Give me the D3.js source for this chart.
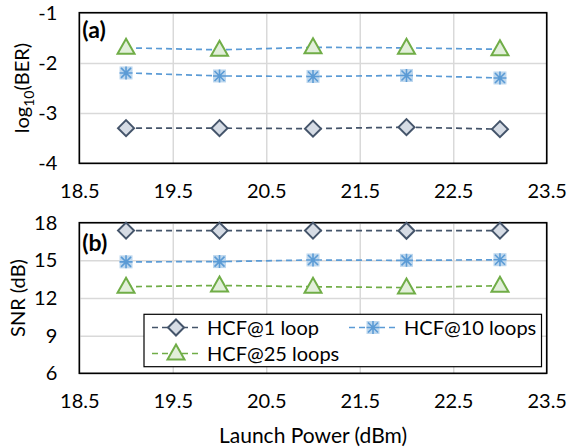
<!DOCTYPE html>
<html>
<head>
<meta charset="utf-8">
<script src="https://cdn.jsdelivr.net/npm/d3@7"></script>
<style>
  body { margin: 0; background: #fff; }
  svg text { font-family: Lato, "Open Sans", sans-serif; fill: #000; }
</style>
</head>
<body>
<div id="chart"></div>
<script>
// launch power (dBm)
var power = [19, 20, 21, 22, 23];
var xTicks = [18.5, 19.5, 20.5, 21.5, 22.5, 23.5];

// (a) log10(BER)
var ber1 = [-3.30, -3.30, -3.31, -3.28, -3.32];
var ber10 = [-2.20, -2.26, -2.27, -2.25, -2.30];
var ber25 = [-1.70, -1.74, -1.69, -1.70, -1.73];
var berTicks = [-4, -3, -2, -1];

// (b) SNR (dB)
var snr1 = [17.37, 17.37, 17.37, 17.36, 17.37];
var snr10 = [14.88, 14.90, 15.03, 15.00, 15.05];
var snr25 = [12.90, 13.00, 12.90, 12.83, 12.98];
var snrTicks = [6, 9, 12, 15, 18];

var seriesNames = ["HCF@1 loop", "HCF@10 loops", "HCF@25 loops"];

var W = 567, H = 448;
var left = 79.3, right = 546.7;

var svg = d3.select("#chart").append("svg")
    .attr("width", W)
    .attr("height", H);

var x = d3.scaleLinear().domain([18.5, 23.5]).range([left, right]);

// plain hyphen for negatives, like the original
function intFmt(d) { return String(d); }

var styles = {
    diamond: { stroke: "#44546a", fill: "#d6dce5" },
    star: { stroke: "#5b9bd5", fill: "#bdd7ee" },
    triangle: { stroke: "#70ad47", fill: "#e2efda" }
};

function drawMarker(g, kind, cx, cy) {
    var s = styles[kind];
    if (kind === "diamond") {
        g.append("path")
            .attr("d", "M0,-8L8,0L0,8L-8,0Z")
            .attr("transform", "translate(" + cx + "," + cy + ")")
            .attr("fill", s.fill).attr("stroke", s.stroke).attr("stroke-width", 2);
    } else if (kind === "triangle") {
        g.append("path")
            .attr("d", "M0,-9L8.5,6L-8.5,6Z")
            .attr("transform", "translate(" + cx + "," + cy + ")")
            .attr("fill", s.fill).attr("stroke", s.stroke).attr("stroke-width", 2);
    } else {
        var m = g.append("g").attr("transform", "translate(" + cx + "," + cy + ")");
        m.append("rect").attr("x", -6.5).attr("y", -6.5).attr("width", 13).attr("height", 13)
            .attr("fill", s.fill);
        m.append("path")
            .attr("d", "M0,-6.5V6.5M-6.5,0H6.5M-5,-5L5,5M-5,5L5,-5")
            .attr("stroke", s.stroke).attr("stroke-width", 1.6);
    }
}

function panel(opts) {
    var y = d3.scaleLinear().domain(opts.domain).range([opts.bottom, opts.top]);
    var g = svg.append("g");

    // grid
    g.append("g")
        .attr("transform", "translate(0," + opts.bottom + ")")
        .call(d3.axisBottom(x).tickValues(xTicks).tickSize(-(opts.bottom - opts.top)).tickFormat(""))
        .call(function (a) {
            a.select(".domain").remove();
            a.selectAll("line").attr("stroke", "#d9d9d9").attr("stroke-width", 1.5);
        });
    g.append("g")
        .attr("transform", "translate(" + left + ",0)")
        .call(d3.axisLeft(y).tickValues(opts.ticks).tickSize(-(right - left)).tickFormat(""))
        .call(function (a) {
            a.select(".domain").remove();
            a.selectAll("line").attr("stroke", "#d9d9d9").attr("stroke-width", 1.5);
        });

    // tick labels
    g.append("g")
        .attr("transform", "translate(0," + opts.bottom + ")")
        .call(d3.axisBottom(x).tickValues(xTicks).tickSize(0).tickPadding(21).tickFormat(d3.format(".1f")))
        .call(function (a) {
            a.select(".domain").remove();
            a.selectAll("text").attr("font-size", 20).attr("font-family", "Lato").attr("fill", "#000");
        });
    g.append("g")
        .attr("transform", "translate(" + left + ",0)")
        .call(d3.axisLeft(y).tickValues(opts.ticks).tickSize(0).tickPadding(22).tickFormat(intFmt))
        .call(function (a) {
            a.select(".domain").remove();
            a.selectAll("text").attr("font-size", 20).attr("font-family", "Lato").attr("fill", "#000");
        });

    // border
    g.append("rect")
        .attr("x", left).attr("y", opts.top)
        .attr("width", right - left).attr("height", opts.bottom - opts.top)
        .attr("fill", "none").attr("stroke", "#000").attr("stroke-width", 1.6);

    // y title
    var t = g.append("text")
        .attr("transform", "translate(" + opts.titleX + "," + (opts.top + opts.bottom) / 2 + ") rotate(-90)")
        .attr("text-anchor", "middle")
        .attr("dy", "0.35em")
        .attr("font-size", 20);
    opts.title(t);

    // panel label
    g.append("text")
        .attr("x", left + 3).attr("y", opts.top + opts.labelDy)
        .attr("font-size", 23).attr("font-weight", "bold")
        .text(opts.label);

    // series
    opts.series.forEach(function (s) {
        var line = d3.line()
            .x(function (d, i) { return x(power[i]); })
            .y(function (d) { return y(d); });
        g.append("path")
            .datum(s.values)
            .attr("d", line)
            .attr("fill", "none")
            .attr("stroke", s.lineColor)
            .attr("stroke-width", 1.7)
            .attr("stroke-dasharray", "6,4");
        s.values.forEach(function (v, i) {
            drawMarker(g, s.kind, x(power[i]), y(v));
        });
    });
    return y;
}

panel({
    top: 12.7, bottom: 163.3, domain: [-4, -1], ticks: berTicks,
    titleX: 22, label: "(a)", labelDy: 25,
    title: function (t) {
        t.append("tspan").text("log");
        t.append("tspan").attr("font-size", 14).attr("dy", 5).text("10");
        t.append("tspan").attr("dy", -5).text("(BER)");
    },
    series: [
        { values: ber1, kind: "diamond", lineColor: "#44546a" },
        { values: ber10, kind: "star", lineColor: "#5b9bd5" },
        { values: ber25, kind: "triangle", lineColor: "#5b9bd5" }
    ]
});

panel({
    top: 222.7, bottom: 373.3, domain: [6, 18], ticks: snrTicks,
    titleX: 18, label: "(b)", labelDy: 28,
    title: function (t) { t.text("SNR (dB)"); },
    series: [
        { values: snr1, kind: "diamond", lineColor: "#44546a" },
        { values: snr10, kind: "star", lineColor: "#5b9bd5" },
        { values: snr25, kind: "triangle", lineColor: "#70ad47" }
    ]
});

// x title
svg.append("text")
    .attr("x", (left + right) / 2).attr("y", 443)
    .attr("text-anchor", "middle")
    .attr("font-size", 21)
    .text("Launch Power (dBm)");

// legend
var lg = svg.append("g");
lg.append("rect")
    .attr("x", 144).attr("y", 314.3).attr("width", 397.5).attr("height", 52.4)
    .attr("fill", "#fff").attr("stroke", "#000").attr("stroke-width", 1.2);

var legendItems = [
    { name: seriesNames[0], kind: "diamond", color: "#44546a", x: 152, y: 327.5 },
    { name: seriesNames[1], kind: "star", color: "#5b9bd5", x: 349, y: 327.5 },
    { name: seriesNames[2], kind: "triangle", color: "#70ad47", x: 152, y: 353.5 }
];
legendItems.forEach(function (d) {
    lg.append("line")
        .attr("x1", d.x).attr("x2", d.x + 48)
        .attr("y1", d.y).attr("y2", d.y)
        .attr("stroke", d.color).attr("stroke-width", 1.7)
        .attr("stroke-dasharray", "6,4");
    drawMarker(lg, d.kind, d.x + 24, d.y);
    lg.append("text")
        .attr("x", d.x + 55).attr("y", d.y)
        .attr("dy", "0.36em")
        .attr("font-size", 20)
        .text(d.name);
});
</script>
</body>
</html>
